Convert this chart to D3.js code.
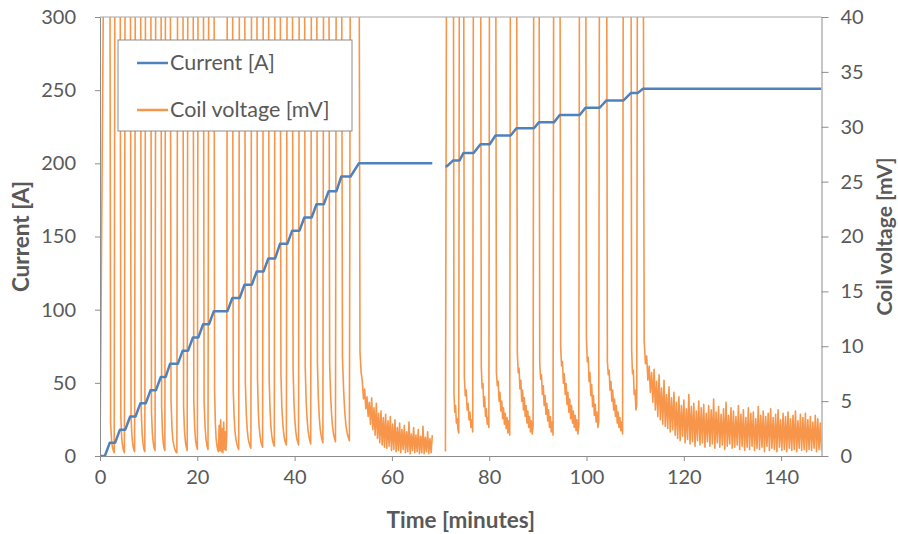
<!DOCTYPE html>
<html>
<head>
<meta charset="utf-8">
<script src="https://cdn.jsdelivr.net/npm/d3@7"></script>
<style>
    body { margin: 0; background: #fff; }
    #chart { width: 898px; height: 534px; }
    text { font-family: Lato, "Open Sans", sans-serif; fill: #595959; }
</style>
</head>
<body>
<div id="chart"></div>
<script>
// current ramps [minutes]: the coil voltage is off the scale while ramping
const rampStart = [1.0, 3.1, 5.2, 7.3, 9.4, 11.5, 13.5, 16.0, 18.1, 20.2, 22.4,
    26.2, 28.7, 31.2, 33.6, 36.0, 38.5, 41.0, 43.5, 46.0, 48.6, 51.5,
    71.3, 73.9, 76.8, 80.1, 84.4, 89.2, 93.3, 98.6, 102.7, 107.6, 110.5];
const rampEnd = [2.0, 4.1, 6.2, 8.3, 10.4, 12.5, 14.4, 17.0, 19.1, 21.2, 23.4,
    27.2, 29.7, 32.2, 34.6, 37.0, 39.5, 42.0, 44.5, 47.0, 49.6, 53.2,
    72.6, 74.7, 78.2, 81.3, 85.6, 90.2, 94.5, 99.8, 104.1, 109.1, 111.6];
// current at the end of each ramp [A]
const rampCurrent = [9, 18, 27, 36, 45, 54, 63, 72, 81, 90, 99,
    108, 117, 126, 135, 145, 154, 163, 172, 181, 191, 200,
    202, 207, 213, 219, 224, 228, 233, 238, 243, 248, 251];
const overRange = 60; // mV, beyond the axis

// two recording runs
const runStart = [0, 71.0];
const runEnd = [68.3, 148.3];
const runFirstRamp = [0, 22];
const runStartCurrent = [0, 198];
const runStartVoltage = [0.2, 0.4];

// coil voltage readings [mV] after each ramp, up to the next ramp (or end of run)
const tailVoltage = [
    [3, 1.5, 0.8, 0.5, 0.3],
    [3.5, 1.6, 0.9, 0.5, 0.3],
    [3.5, 1.8, 1, 0.6, 0.4],
    [4, 2, 1.1, 0.6, 0.4],
    [4, 2, 1.2, 0.7, 0.5],
    [4.5, 2.2, 1.2, 0.7, 0.5],
    [5, 2.5, 1.4, 0.9, 0.6, 0.4, 0.3],
    [4.5, 2.3, 1.3, 0.8, 0.5],
    [5, 2.5, 1.4, 0.9, 0.6],
    [5, 2.6, 1.5, 0.9, 0.6],
    [6, 3, 1.6, 1, 0.6, 0.4, 2.8, 0.5, 3.3, 0.4, 2.5, 0.3, 3.1, 0.6, 2.2, 0.5, 1.8],
    [6, 3.5, 2.2, 1.5, 1.1, 0.8, 0.6],
    [6.5, 3.8, 2.4, 1.6, 1.2, 0.9, 0.7],
    [7, 4, 2.6, 1.8, 1.3, 1, 0.8],
    [7, 4.2, 2.7, 1.9, 1.4, 1.1, 0.9],
    [7.5, 4.5, 3, 2.1, 1.5, 1.2, 1],
    [8, 4.8, 3.2, 2.2, 1.6, 1.3, 1],
    [8, 5, 3.4, 2.4, 1.8, 1.4, 1.1],
    [8.5, 5.3, 3.6, 2.5, 1.9, 1.5, 1.2],
    [8.5, 5.5, 3.8, 2.7, 2, 1.6, 1.3],
    [9, 6, 4, 2.8, 2.1, 1.7, 1.4],
    [9.5, 7.6, 6.8, 5.2, 6.1, 4.3, 5.4, 3.6, 4.9, 2.9, 5.3, 2.4, 4.4, 1.9, 4.8, 1.6,
        3.9, 1.2, 4.1, 1.0, 3.5, 0.8, 3.8, 0.7, 3.2, 0.9, 3.6, 0.5, 2.9, 0.6, 3.3, 0.4,
        2.6, 0.5, 3.0, 0.3, 2.4, 0.6, 2.8, 0.3, 2.2, 0.4, 3.1, 0.2, 2.0, 0.5, 2.6, 0.3,
        1.9, 0.4, 2.4, 0.2, 1.8, 0.3, 2.7, 0.2, 1.7, 0.4, 2.2, 0.2, 1.6, 0.3, 1.9],
    [5.7, 4.0, 4.6, 3.0, 3.4, 2.4, 2.1],
    [7.2, 5.5, 6.0, 4.2, 4.8, 3.3, 4.0, 2.6, 3.3, 2.2],
    [8.1, 6.2, 6.6, 4.5, 5.4, 3.6, 4.3, 2.9, 3.5, 2.6],
    [7.6, 6.4, 6.8, 5.0, 5.8, 4.1, 5.0, 3.4, 4.4, 2.9, 3.9, 2.5, 3.5, 2.1, 3.2, 1.9],
    [9.4, 7.6, 8.0, 6.1, 6.9, 5.0, 6.0, 4.2, 5.3, 3.6, 4.6, 3.0, 4.1, 2.6, 3.6, 2.2, 3.2, 2.0, 2.7],
    [8.5, 7.0, 7.4, 5.6, 6.4, 4.6, 5.5, 3.8, 4.8, 3.2, 4.2, 2.6, 3.6, 2.2, 3.1, 1.9],
    [9.9, 8.2, 8.6, 6.6, 7.5, 5.6, 6.6, 4.7, 5.8, 4.0, 5.2, 3.4, 4.6, 3.0, 4.1, 2.6, 3.7, 2.3, 3.3, 2.0, 2.8],
    [10.8, 8.6, 9.0, 6.8, 7.6, 5.5, 6.5, 4.5, 5.5, 3.7, 4.7, 3.1, 4.0, 2.6, 3.2],
    [8.7, 7.4, 7.8, 6.0, 6.8, 5.0, 6.0, 4.2, 5.2, 3.6, 4.6, 3.0, 4.0, 2.6, 3.5, 2.3, 3.1, 2.0],
    [9.7, 7.5, 7.8, 5.6, 6.0, 4.2, 4.6],
    [10.5, 8.4, 9.1, 6.9, 8.2, 5.8, 7.6, 4.9, 7.9, 4.2, 6.8, 3.6, 7.4, 3.3, 6.2, 2.9,
        6.9, 2.7, 5.6, 2.5, 6.3, 2.2, 5.3, 2.4,
        5.8, 1.9, 4.9, 1.6, 5.4, 1.4, 4.6, 1.8, 5.1, 1.2, 4.3, 1.5, 5.6, 1.1, 4.5, 1.3,
        4.8, 0.9, 4.1, 1.4, 5.0, 1.0, 4.4, 1.2, 4.7, 0.8, 3.9, 1.3, 4.6, 0.9, 4.2, 1.1,
        5.2, 0.7, 4.0, 1.2, 4.5, 0.8, 3.8, 1.0, 4.3, 0.6, 4.9, 0.9, 3.7, 1.1, 4.4, 0.7,
        4.1, 0.8, 3.6, 1.0, 4.6, 0.6, 3.8, 0.9, 4.2, 0.5, 3.5, 0.8, 4.4, 0.6, 3.9, 0.9,
        4.0, 0.5, 3.4, 0.7, 4.5, 0.6, 3.7, 0.8, 4.1, 0.4, 3.6, 0.9, 3.9, 0.5, 4.3, 0.7,
        3.5, 0.6, 3.8, 0.4, 4.2, 0.8, 3.3, 0.5, 3.9, 0.6, 3.6, 0.4, 4.0, 0.7, 3.4, 0.5,
        3.7, 0.6, 4.1, 0.4, 3.2, 0.7, 3.8, 0.5, 3.5, 0.6, 3.9, 0.4, 3.3, 0.6, 3.6, 0.5,
        3.1, 0.7, 3.7, 0.4, 3.4, 0.6, 3.0, 0.5]
];

const timeTicks = [0, 20, 40, 60, 80, 100, 120, 140];
const currentTicks = [0, 50, 100, 150, 200, 250, 300];
const voltageTicks = [0, 5, 10, 15, 20, 25, 30, 35, 40];
const legendLabels = ["Current [A]", "Coil voltage [mV]"];

class coilChart {

    constructor(parentElement) {
        this.parentElement = parentElement;
        this.initVis();
    }

    initVis() {
        let vis = this;
        vis.margin = { top: 17, right: 76.5, bottom: 78, left: 100 };
        vis.width = 898 - vis.margin.left - vis.margin.right;
        vis.height = 534 - vis.margin.top - vis.margin.bottom;

        vis.svg = d3.select('#' + vis.parentElement).append("svg")
            .attr("width", 898)
            .attr("height", 534)
            .append("g")
            .attr("transform", "translate(" + vis.margin.left + "," + vis.margin.top + ")");

        vis.x = d3.scaleLinear().domain([0, 148.3]).range([0, vis.width]);
        vis.yI = d3.scaleLinear().domain([0, 300]).range([vis.height, 0]);
        vis.yV = d3.scaleLinear().domain([0, 40]).range([vis.height, 0]);

        vis.svg.append("clipPath").attr("id", "plot-clip")
            .append("rect")
            .attr("width", vis.width)
            .attr("height", vis.height);

        vis.wrangleData();
    }

    wrangleData() {
        let vis = this;
        vis.voltageRuns = [];
        vis.currentRuns = [];

        runStart.forEach((t0, r) => {
            let first = runFirstRamp[r];
            let last = r + 1 < runStart.length ? runFirstRamp[r + 1] - 1 : rampStart.length - 1;
            let volts = [[t0, runStartVoltage[r]]];
            let amps = runStartCurrent[r];
            let cur = [[t0, amps]];

            for (let i = first; i <= last; i++) {
                volts.push([rampStart[i], overRange], [rampEnd[i], overRange]);
                cur.push([rampStart[i], amps]);
                amps = rampCurrent[i];
                cur.push([rampEnd[i], amps]);

                let tail = tailVoltage[i];
                let next = i < last ? rampStart[i + 1] : runEnd[r];
                let dt = (next - rampEnd[i]) / (i < last ? tail.length + 1 : tail.length);
                tail.forEach((v, k) => volts.push([rampEnd[i] + (k + 1) * dt, v]));
            }
            cur.push([runEnd[r], amps]);

            vis.voltageRuns.push(volts);
            vis.currentRuns.push(cur);
        });

        vis.updateVis();
    }

    updateVis() {
        let vis = this;
        let axisColor = "#8c8c8c";

        // plot top edge
        vis.svg.append("line")
            .attr("x1", 0).attr("x2", vis.width)
            .attr("y1", 0).attr("y2", 0)
            .attr("stroke", "#a6a6a6");

        let plot = vis.svg.append("g").attr("clip-path", "url(#plot-clip)");

        let voltLine = d3.line()
            .x(d => vis.x(d[0]))
            .y(d => vis.yV(d[1]));

        plot.selectAll(".volt")
            .data(vis.voltageRuns)
            .enter()
            .append("path")
            .attr("class", "volt")
            .attr("d", voltLine)
            .attr("fill", "none")
            .attr("stroke", "#f7964a")
            .attr("stroke-width", 1.6)
            .attr("stroke-linejoin", "round");

        let curLine = d3.line()
            .x(d => vis.x(d[0]))
            .y(d => vis.yI(d[1]));

        plot.selectAll(".cur")
            .data(vis.currentRuns)
            .enter()
            .append("path")
            .attr("class", "cur")
            .attr("d", curLine)
            .attr("fill", "none")
            .attr("stroke", "#4f81bd")
            .attr("stroke-width", 2.5)
            .attr("stroke-linejoin", "round");

        // axes
        let xAxis = d3.axisBottom(vis.x).tickValues(timeTicks).tickSize(5).tickSizeOuter(0).tickPadding(9);
        let yLeft = d3.axisLeft(vis.yI).tickValues(currentTicks).tickSize(5).tickSizeOuter(0).tickPadding(19);
        let yRight = d3.axisRight(vis.yV).tickValues(voltageTicks).tickSize(7).tickSizeOuter(0).tickPadding(12);

        let gx = vis.svg.append("g").attr("transform", "translate(0," + vis.height + ")").call(xAxis);
        let gl = vis.svg.append("g").call(yLeft);
        let gr = vis.svg.append("g").attr("transform", "translate(" + vis.width + ",0)").call(yRight);

        [gx, gl, gr].forEach(g => {
            g.select(".domain").attr("stroke", axisColor);
            g.selectAll(".tick line").attr("stroke", axisColor);
            g.selectAll("text")
                .attr("fill", "#595959")
                .style("font-size", "20px")
                .style("font-family", "Lato, sans-serif");
        });

        // axis titles
        vis.svg.append("text")
            .attr("x", vis.width / 2)
            .attr("y", vis.height + 72)
            .attr("text-anchor", "middle")
            .style("font-size", "22.5px")
            .style("font-weight", "bold")
            .text("Time [minutes]");

        vis.svg.append("text")
            .attr("transform", "translate(" + (-71) + "," + (vis.height / 2) + ") rotate(-90)")
            .attr("text-anchor", "middle")
            .style("font-size", "22.5px")
            .style("font-weight", "bold")
            .text("Current [A]");

        vis.svg.append("text")
            .attr("transform", "translate(" + (vis.width + 70) + "," + (vis.height / 2) + ") rotate(-90)")
            .attr("text-anchor", "middle")
            .style("font-size", "21px")
            .style("font-weight", "bold")
            .text("Coil voltage [mV]");

        // legend
        let legend = vis.svg.append("g").attr("transform", "translate(18,23)");
        legend.append("rect")
            .attr("width", 234)
            .attr("height", 91)
            .attr("fill", "#fff")
            .attr("stroke", "#8c8c8c");

        let colors = ["#4f81bd", "#f7964a"];
        legendLabels.forEach((label, i) => {
            let yy = 23 + i * 47;
            legend.append("line")
                .attr("x1", 19).attr("x2", 50)
                .attr("y1", yy).attr("y2", yy)
                .attr("stroke", colors[i])
                .attr("stroke-width", 2.5);
            legend.append("text")
                .attr("x", 52)
                .attr("y", yy + 7)
                .style("font-size", "21.5px")
                .text(label);
        });
    }
}

new coilChart("chart");
</script>
</body>
</html>
